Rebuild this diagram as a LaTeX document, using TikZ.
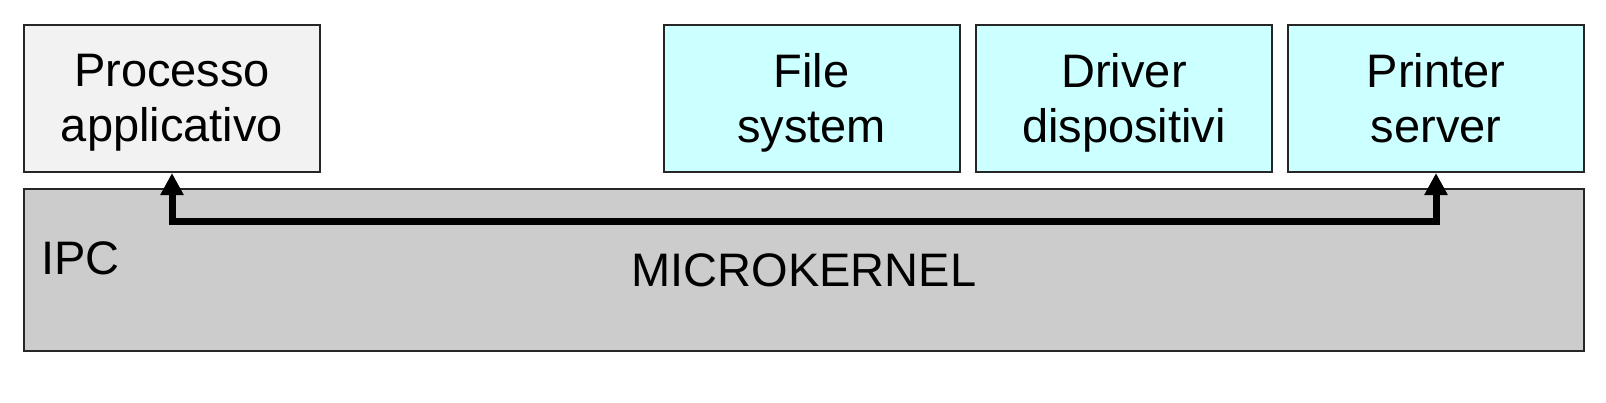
\documentclass[tikz,border=0pt]{standalone}
\usepackage{fontspec}
\setmainfont{Liberation Sans}
\usetikzlibrary{arrows.meta}
\definecolor{servfill}{HTML}{CCFFFF}
\definecolor{appfill}{HTML}{F2F2F2}
\definecolor{kernfill}{HTML}{CCCCCC}

\begin{document}
\begin{tikzpicture}[x=1pt,y=-1pt]

\tikzstyle box=[draw=black!85, line width=2pt, minimum width=296pt, minimum height=147pt, align=center, text depth=1pt, font=\fontsize{47}{55}\selectfont]
\tikzstyle app=[box, fill=appfill]
\tikzstyle serv=[box, fill=servfill]
\tikzstyle kern=[draw=black!85, line width=2pt, fill=kernfill, minimum width=1560pt, minimum height=162pt, font=\fontsize{47}{55}\selectfont]

\useasboundingbox (0,0) rectangle (1606,402);

\node (kernel) [kern] at (804,270) {MICROKERNEL};
\node (proc) [app] at (172,98.5) {Processo\\applicativo};
\node (fs) [serv] at (811.5,98.5) {File\\system};
\node (drv) [serv] at (1124,98.5) {Driver\\dispositivi};
\node (prn) [serv] at (1436,98.5) {Printer\\server};
\node (ipc) [anchor=base west, inner sep=0pt, font=\fontsize{47}{55}\selectfont] at (41,274) {IPC};

\draw [{Triangle[width=22pt,length=22pt]}-{Triangle[width=22pt,length=22pt]}, line width=7pt] (proc.south) -- ++(0,48) -| (prn.south);

\end{tikzpicture}
\end{document}
